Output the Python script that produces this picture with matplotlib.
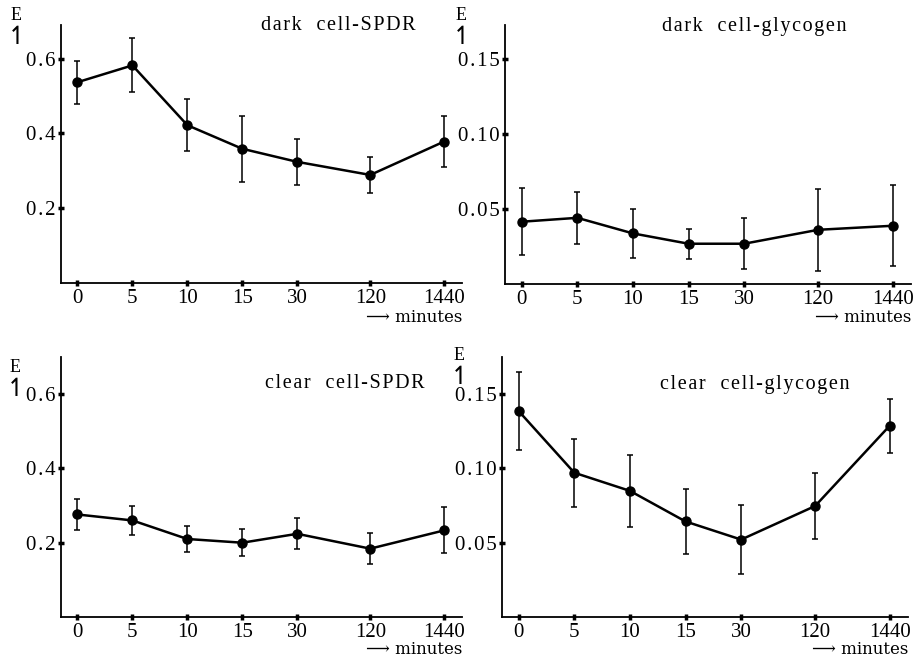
import numpy as np
import matplotlib
matplotlib.use("Agg")
import matplotlib.pyplot as plt

plt.rcParams['font.family'] = ['Liberation Serif', 'DejaVu Serif', 'DejaVu Sans']

# 시간 축 (분)
time_labels = ["0", "5", "10", "15", "30", "120", "1440"]

# dark cell - SPDR
dark_spdr = [0.537, 0.582, 0.422, 0.359, 0.324, 0.289, 0.378]
dark_spdr_err = [0.058, 0.072, 0.070, 0.088, 0.061, 0.047, 0.069]

# dark cell - glycogen
dark_gly = [0.0416, 0.0442, 0.0338, 0.0269, 0.0269, 0.0362, 0.0389]
dark_gly_err = [0.0222, 0.0174, 0.0166, 0.0100, 0.0170, 0.0275, 0.0270]

# clear cell - SPDR
clear_spdr = [0.276, 0.260, 0.210, 0.200, 0.224, 0.184, 0.233]
clear_spdr_err = [0.043, 0.040, 0.036, 0.036, 0.042, 0.041, 0.062]

# clear cell - glycogen
clear_gly = [0.1386, 0.0971, 0.0849, 0.0643, 0.0521, 0.0747, 0.1287]
clear_gly_err = [0.026, 0.023, 0.024, 0.022, 0.023, 0.022, 0.018]

# x 위치 (120, 1440 간격이 조금 더 넓음)
x_pos = [0, 1, 2, 3, 4, 5.33, 6.67]

W, H = 916, 659
fig = plt.figure(figsize=(W / 100, H / 100), dpi=100)


def px_axes(left, top, right, bottom):
    return fig.add_axes([left / W, 1 - bottom / H, (right - left) / W, (bottom - top) / H])


def spaced(s):
    # 자간 넓히기 (hair space)
    return "\u200a".join(s)


panels = [
    # (rect, values, errors, ylim, yticks, yticklabels, title, title_xy, E_xy, minutes_y)
    ((61, 25, 462, 283), dark_spdr, dark_spdr_err, 0.69, [0.2, 0.4, 0.6], ["0.2", "0.4", "0.6"],
     "dark  cell-SPDR", (338, 26), (16, 15), 318),
    ((505, 25, 911, 284), dark_gly, dark_gly_err, 0.173, [0.05, 0.10, 0.15], ["0.05", "0.10", "0.15"],
     "dark  cell-glycogen", (754, 26), (461, 15), 318),
    ((61, 357, 462, 617), clear_spdr, clear_spdr_err, 0.70, [0.2, 0.4, 0.6], ["0.2", "0.4", "0.6"],
     "clear  cell-SPDR", (345, 384), (15, 367), 650),
    ((502, 357, 908, 617), clear_gly, clear_gly_err, 0.175, [0.05, 0.10, 0.15], ["0.05", "0.10", "0.15"],
     "clear  cell-glycogen", (755, 384), (459, 355), 650),
]

for rect, vals, errs, ytop, yt, ytl, title, txy, exy, my in panels:
    ax = px_axes(*rect)
    ax.errorbar(x_pos, vals, yerr=errs, color='black', lw=1.8, marker='o', ms=6.5,
                elinewidth=1.1, capsize=2.5, capthick=1.1)
    ax.set_xlim(-0.3, 7.0)
    ax.set_ylim(0, ytop)
    for s in ['top', 'right']:
        ax.spines[s].set_visible(False)
    for s in ['left', 'bottom']:
        ax.spines[s].set_linewidth(1.3)
    ax.set_xticks(x_pos)
    ax.set_xticklabels(time_labels, fontsize=15)
    ax.set_yticks(yt)
    ax.set_yticklabels([spaced(t) for t in ytl], fontsize=15)
    ax.tick_params(axis='both', direction='inout', length=4, width=2.5, pad=2)
    ax.tick_params(axis='x', pad=2)

    fig.text(txy[0] / W, 1 - txy[1] / H, spaced(title), fontsize=14.5, ha='center', va='center')
    fig.text(exy[0] / W, 1 - exy[1] / H, "E", fontsize=13, ha='center', va='center')
    fig.text((exy[0] + 1) / W, 1 - (exy[1] + 22) / H, "\u21bf", fontsize=18, ha='center', va='center',
             family=['DejaVu Sans'])
    fig.text(rect[2] / W, 1 - my / H, "\u27f6 minutes", fontsize=12, ha='right',
             va='center', family=['DejaVu Serif', 'DejaVu Sans'])

fig.savefig("out.png", dpi=100, facecolor='white')
